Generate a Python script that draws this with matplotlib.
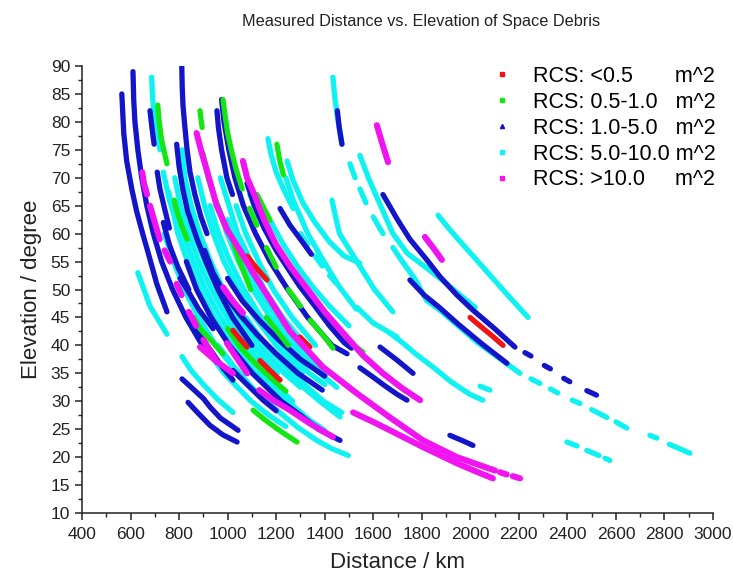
import matplotlib
matplotlib.use("Agg")
import matplotlib.pyplot as plt
from matplotlib.lines import Line2D
from matplotlib.ticker import MultipleLocator

plt.rcParams['font.family'] = ['Liberation Sans', 'DejaVu Sans']

# ---------------- data (distance km, elevation deg) ----------------
classes = ["RCS: <0.5       m^2", "RCS: 0.5-1.0   m^2", "RCS: 1.0-5.0   m^2",
           "RCS: 5.0-10.0 m^2", "RCS: >10.0     m^2"]

red_arcs = [
    [(1999, 45), (2040, 43.5), (2090, 41.7), (2135, 40)],
    [(1022, 42.7), (1050, 41.2), (1080, 39.7)],
    [(1133, 37.3), (1170, 35.7), (1216, 33.8)],
    [(1080, 56), (1120, 53.8), (1162, 51.7)],
    [(1298, 41.5), (1339, 39.7)],
]

green_arcs = [
    [(712, 83), (718, 80), (727, 77), (737, 75), (750, 72.5)],
    [(886, 82), (895, 79)],
    [(981, 84), (990, 81), (1000, 78), (1015, 75), (1035, 71.5), (1060, 68)],
    [(1090, 64.5), (1120, 61.5)], [(1160, 57.5), (1200, 54)], [(1250, 50), (1300, 47)],
    [(1340, 44.5), (1400, 41.5), (1434, 39.5)],
    [(898, 74.4), (920, 70), (950, 66), (985, 62), (1010, 60), (1050, 55), (1095, 50)],
    [(1160, 45), (1250, 40)],
    [(1105, 28.4), (1150, 26.8), (1200, 25.2), (1240, 24), (1286, 22.7)],
    [(1203, 76), (1215, 73), (1230, 70.5)],
    [(1121, 67), (1150, 64.5), (1175, 62.4)],
    [(780, 66), (791, 64), (810, 61.5), (833, 59)],
    [(860, 45), (886, 43), (940, 40.5), (980, 38.5)],
    [(1000, 43), (1051, 39.7), (1120, 36.5), (1187, 33.8), (1240, 31.8)],
    [(1533, 39.6), (1558, 38.8)],
]

blue_arcs = [
    [(564, 85), (572, 78), (584, 73), (605, 68), (625, 64), (650, 60), (673, 56.5), (708, 51), (750, 46)],
    [(610, 89), (613, 84), (618, 80), (630, 75), (646, 70), (667, 65), (694, 60), (728, 55), (773, 50), (828, 45), (896, 40)],
    [(680, 82), (688, 79), (697, 76)],
    [(710, 71), (721, 68), (740, 64.5), (760, 61)],
    [(811, 90), (813, 86), (816, 83), (824, 79), (833, 75), (845, 71), (865, 67), (890, 63), (915, 60)],
    [(790, 76), (800, 72), (815, 68), (835, 64), (874, 59), (910, 55), (960, 50), (1020, 45), (1100, 40)],
    [(975, 84), (985, 80), (1005, 75), (1030, 70), (1065, 65), (1115, 60), (1175, 55), (1248, 50), (1330, 45), (1430, 40), (1492, 38.5)],
    [(956, 82), (962, 79), (975, 75), (997, 70), (1020, 67)],
    [(812, 34), (850, 32.5), (900, 30.5), (927, 29), (970, 27), (1010, 25.8), (1043, 24.8)],
    [(837, 29.8), (880, 27.8), (927, 25.7), (980, 24), (1039, 22.7)],
    [(830, 55), (872, 50), (932, 45), (1007, 40), (1102, 35), (1221, 30), (1300, 27.5), (1374, 25), (1463, 23)],
    [(1640, 67), (1700, 62.5), (1751, 59), (1821, 55.3), (1875, 52.3), (1945, 49), (2011, 46.3), (2100, 43), (2184, 39.7)],
    [(2225, 38.7), (2250, 38.1)], [(2305, 36.4), (2330, 35.8)], [(2385, 34.1), (2410, 33.5)], [(2480, 31.9), (2520, 31.1)],
    [(1751, 51.7), (1810, 49), (1875, 46.7), (1950, 43.8), (2050, 40.2), (2151, 36.8)],
    [(1916, 23.9), (1965, 23), (2011, 22.1)],
    [(1628, 39.7), (1700, 37.3), (1764, 35)],
    [(1545, 36), (1600, 34.3), (1650, 32.7), (1700, 31.2), (1739, 30.2)],
    [(1452, 82), (1460, 79), (1471, 76)],
    [(1216, 64.5), (1257, 61.5), (1300, 59), (1345, 56.3)],
    [(1080, 69), (1110, 65), (1150, 61), (1200, 57), (1260, 53), (1298, 50.5), (1360, 47), (1420, 43.5), (1480, 40.5), (1510, 39.5)],
    [(804, 52), (840, 49.5), (880, 46.5), (940, 43)],
    [(845, 44.5), (890, 41.5), (940, 38.5), (980, 36), (1022, 33.8)],
    [(1022, 35.5), (1080, 33), (1146, 30.2), (1200, 28.3)],
    [(735, 62), (760, 58), (795, 54), (840, 50)],
    [(905, 57), (940, 53), (990, 49), (1050, 45.5), (1120, 42), (1200, 38.5), (1290, 35), (1390, 32)],
    [(1000, 52), (1060, 48), (1130, 44.5), (1210, 41), (1300, 37.5), (1400, 34.5)],
]

cyan_arcs = [
    [(630, 53), (655, 50), (680, 47), (715, 44.5), (750, 42)],
    [(812, 38), (850, 35.5), (900, 33), (960, 30.3), (1022, 28)],
    [(687, 88), (690, 85), (695, 82), (705, 79), (721, 75)],
    [(735, 71), (760, 66), (790, 62)],
    [(960, 40), (1030, 36), (1110, 32), (1200, 28.5), (1290, 25.3), (1367, 23), (1430, 21.5), (1497, 20.3)],
    [(1434, 88), (1440, 85), (1452, 81), (1471, 76)],
    [(1504, 72.5), (1525, 70)], [(1545, 68), (1570, 65.5)], [(1600, 63), (1640, 60)],
    [(1681, 57.5), (1720, 55), (1770, 52), (1821, 48), (1875, 46.3), (1950, 43.5), (2030, 40.5), (2110, 38), (2205, 35)],
    [(2250, 34), (2287, 33.2)], [(2330, 32.2), (2360, 31.5)], [(2420, 30.2), (2452, 29.6)],
    [(2500, 28.5), (2563, 27.1)], [(2600, 26.3), (2645, 25.2)], [(2740, 23.9), (2769, 23.4)], [(2820, 22.3), (2905, 20.7)],
    [(1867, 63.3), (1910, 61), (1960, 58.5), (2052, 54), (2150, 49.2), (2238, 45)],
    [(1545, 74), (1580, 70), (1620, 66), (1681, 60), (1740, 56.5), (1800, 54.5), (1875, 52), (1950, 49.3), (2020, 46.8)],
    [(1669, 42.2), (1720, 40.5), (1780, 38.3), (1850, 36), (1920, 33.5), (2000, 31.2), (2052, 30.2)],
    [(2040, 32.7), (2081, 32)],
    [(2398, 22.7), (2440, 22)], [(2480, 21.2), (2530, 20.3)], [(2555, 19.8), (2575, 19.4)],
    [(1240, 70), (1270, 66), (1330, 60), (1390, 55.5), (1460, 50.5), (1530, 46.5)],
    [(1430, 66), (1450, 62), (1461, 60), (1533, 55), (1605, 50), (1681, 46)],
    [(1166, 77), (1180, 74), (1200, 71), (1230, 68), (1270, 64.5)],
    [(1245, 73), (1270, 69.5), (1310, 65.5), (1360, 62), (1420, 58.5), (1480, 56), (1545, 54.7)],
    [(757, 67.5), (770, 65), (795, 60), (835, 55), (884, 50), (945, 45), (1021, 40), (1117, 35)],
    [(782, 70), (806, 65), (840, 60), (880, 55), (933, 50), (997, 45), (1076, 40), (1176, 35)],
    [(812, 75), (824, 70), (850, 65), (885, 60), (930, 55), (982, 50), (1048, 45), (1131, 40), (1234, 35), (1300, 32.5)],
    [(877, 70), (905, 65), (941, 60), (985, 55), (1043, 50), (1113, 45), (1200, 40), (1308, 35)],
    [(960, 65), (997, 60), (1045, 55), (1104, 50), (1176, 45), (1268, 40), (1380, 35), (1450, 32.5)],
    [(970, 70), (1041, 60), (1152, 50), (1227, 45), (1322, 40)],
    [(900, 40), (985, 35), (1097, 30), (1170, 27.5), (1240, 25.5)],
    [(1074, 45), (1159, 40), (1264, 35), (1395, 30), (1470, 28)],
    [(1092, 67), (1130, 63), (1180, 59), (1245, 55)],
    [(1180, 62), (1230, 58), (1290, 54), (1350, 50.5), (1420, 47), (1500, 43.5)],
    [(1300, 60), (1330, 58)], [(1360, 56), (1390, 54.2)], [(1420, 52.5), (1450, 51)],
    [(1533, 46.8), (1600, 44), (1698, 41.5)],
    [(1130, 35), (1187, 32.5), (1260, 29.5), (1339, 26.6), (1400, 24.8)],
    [(1298, 33), (1380, 30), (1463, 27.2)],
    [(785, 65), (817, 60), (858, 55), (908, 50), (971, 45), (1049, 40), (1146, 35), (1268, 30)],
    [(846, 62), (862, 60), (905, 55), (957, 50), (1023, 45), (1104, 40), (1205, 35)],
    [(928, 65), (963, 60), (1010, 55), (1067, 50), (1138, 45), (1227, 40), (1337, 35), (1400, 33)],
    [(739, 60), (777, 55), (822, 50), (880, 45), (951, 40), (1042, 35), (1156, 30)],
    [(1035, 65), (1075, 60), (1128, 55), (1188, 50), (1266, 45), (1362, 40)],
    [(1000, 62.5), (1019, 60), (1068, 55), (1128, 50), (1202, 45), (1295, 40), (1409, 35)],
]

magenta_arcs = [
    [(648, 71), (655, 69), (668, 67)], [(680, 65), (700, 62), (720, 59)], [(740, 57), (763, 55)],
    [(790, 51), (810, 49)], [(840, 46), (870, 43.5)], [(900, 41), (956, 37)],
    [(981, 50.4), (1020, 48), (1063, 45.8)],
    [(997, 40.4), (1040, 37.6), (1080, 35)],
    [(886, 39.7), (950, 37.3), (1022, 35)],
    [(1130, 32), (1187, 30.2), (1257, 28.4), (1340, 26), (1434, 23.6)],
    [(872, 78), (893, 74.5), (914, 71.4), (955, 65), (1000, 60.5), (1051, 57), (1105, 53), (1170, 48.5),
     (1257, 42.5), (1393, 36.1), (1533, 31.4), (1669, 27.1), (1805, 23), (1945, 20), (2030, 18.7), (2102, 17.6)],
    [(2122, 17.3), (2150, 16.9)], [(2175, 16.6), (2205, 16.2)],
    [(1063, 73), (1080, 70), (1105, 67.5), (1150, 62.5), (1200, 58), (1260, 54), (1330, 50), (1400, 46),
     (1470, 42.5), (1558, 38.2), (1640, 35), (1720, 32.3), (1793, 30.2)],
    [(1517, 28), (1600, 26.3), (1669, 24.8), (1805, 21.8), (1945, 18.9), (2020, 17.5), (2093, 16.2)],
    [(1615, 79.4), (1638, 76), (1661, 72.8)],
    [(1813, 59.4), (1850, 57.3), (1883, 55.3)],
]

colors = ["#f21414", "#14e614", "#1414c8", "#0ef2f2", "#f014f0"]
all_arcs = [red_arcs, green_arcs, blue_arcs, cyan_arcs, magenta_arcs]

# ---------------- figure ----------------
fig = plt.figure(figsize=(7.33, 5.77), dpi=100)
ax = fig.add_axes([0.1119, 0.1109, 0.8608, 0.7747])

draw_order = [3, 2, 1, 0, 4]
for k in draw_order:
    lw = 4.4 if k == 4 else 3.8
    for arc in all_arcs[k]:
        d = [p[0] for p in arc]
        e = [p[1] for p in arc]
        ax.plot(d, e, color=colors[k], lw=lw, solid_capstyle='round', solid_joinstyle='round')

ax.set_xlim(400, 3000)
ax.set_ylim(10, 90)
ax.xaxis.set_major_locator(MultipleLocator(200))
ax.xaxis.set_minor_locator(MultipleLocator(100))
ax.yaxis.set_major_locator(MultipleLocator(5))
ax.yaxis.set_minor_locator(MultipleLocator(2.5))
for s in ['top', 'right']:
    ax.spines[s].set_visible(False)
for s in ['left', 'bottom']:
    ax.spines[s].set_color('#222222')
    ax.spines[s].set_linewidth(1.1)
ax.tick_params(which='major', direction='out', length=5, width=1.1, labelsize=12.5, colors='#222222')
ax.tick_params(which='minor', direction='out', length=3, width=1.0, colors='#222222')
ax.tick_params(axis='x', pad=5)

ax.set_xlabel("Distance / km", fontsize=16, color='#222222', labelpad=7)
ax.set_ylabel("Elevation / degree", fontsize=16, color='#222222', labelpad=6)
fig.text(0.575, 0.962, "Measured Distance vs. Elevation of Space Debris", ha='center', va='center',
         fontsize=11.7, color='#222222')

markers = ['s', 's', '^', 's', 's']
msizes = [2.2, 2.2, 3.0, 2.4, 2.6]
handles = [Line2D([], [], marker=markers[i], ms=msizes[i], color=colors[i], linestyle='none') for i in range(5)]
leg = ax.legend(handles, classes, loc='upper left', bbox_to_anchor=(0.635, 1.02), frameon=False,
                fontsize=15.5, handlelength=1.0, handletextpad=0.95, labelspacing=0.23, borderaxespad=0)

fig.savefig("out.png", dpi=100, facecolor='white')
